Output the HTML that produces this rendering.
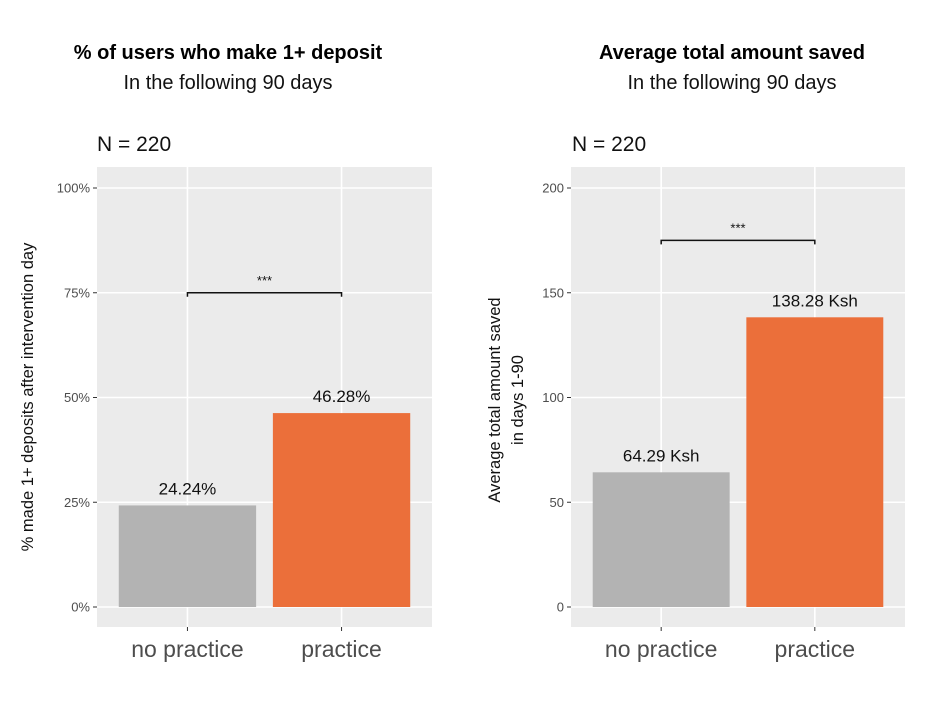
<!DOCTYPE html>
<html><head><meta charset="utf-8"><style>
body{margin:0;background:#fff;}
svg{display:block;font-family:"Liberation Sans",sans-serif;}
</style></head><body>
<svg id="c" width="926" height="706" xmlns="http://www.w3.org/2000/svg">
<text x="228" y="59" text-anchor="middle" font-size="20" font-weight="bold" fill="#000">% of users who make 1+ deposit</text>
<text x="228" y="89" text-anchor="middle" font-size="20" fill="#111">In the following 90 days</text>
<text x="732" y="59" text-anchor="middle" font-size="20" font-weight="bold" fill="#000">Average total amount saved</text>
<text x="732" y="89" text-anchor="middle" font-size="20" fill="#111">In the following 90 days</text>
<text x="97" y="151" font-size="21" fill="#111">N = 220</text>
<text x="572" y="151" font-size="21" fill="#111">N = 220</text>
<text transform="translate(33,397) rotate(-90)" text-anchor="middle" font-size="16.5" fill="#111">% made 1+ deposits after intervention day</text>
<text transform="translate(500,400) rotate(-90)" text-anchor="middle" font-size="16.5" fill="#111">Average total amount saved</text>
<text transform="translate(523,400) rotate(-90)" text-anchor="middle" font-size="16.5" fill="#111">in days 1-90</text>
<g id="left"></g><g id="right"></g>
</svg>
<script>
const categories = ["no practice", "practice"];
const leftValues = [24.24, 46.28];
const leftLabels = ["24.24%", "46.28%"];
const leftTicks = [0, 25, 50, 75, 100];
const leftTickLabels = ["0%", "25%", "50%", "75%", "100%"];
const leftBracket = 75;
const rightValues = [64.29, 138.28];
const rightLabels = ["64.29 Ksh", "138.28 Ksh"];
const rightTicks = [0, 50, 100, 150, 200];
const rightTickLabels = ["0", "50", "100", "150", "200"];
const rightBracket = 175;
const colors = ["#b3b3b3", "#eb6f3a"];
const NS = "http://www.w3.org/2000/svg";
function mk(parent, tag, attrs){const e=document.createElementNS(NS,tag);for(const k in attrs)e.setAttribute(k,attrs[k]);parent.appendChild(e);return e;}
function panel(g, x0, x1, values, labels, ticks, tickLabels, yMax, bracket, prefix){
  const top=167,bottom=627,y0=607,y100=188;
  const y=v=>y0-(v/yMax)*(y0-y100);
  const step=(x1-x0)/2.17, xc=i=>x0+(x1-x0)/2+(i-0.5)*((x1-x0)*0.46);
  const bg=mk(g,'rect',{x:x0,y:top,width:x1-x0,height:bottom-top,fill:'#ebebeb'});
  
  
  ticks.forEach((t,i)=>{
    const gl=mk(g,'line',{x1:x0,x2:x1,y1:y(t),y2:y(t),stroke:'#fff','stroke-width':1.6});
    
    
    mk(g,'line',{x1:x0-4,x2:x0,y1:y(t),y2:y(t),stroke:'#333'});
    const tl=mk(g,'text',{x:x0-7,y:y(t)+4.5,'text-anchor':'end','font-size':13,fill:'#4d4d4d'});
    tl.textContent=tickLabels[i];
    
    
  });
  const bw=(x1-x0)*0.41;
  categories.forEach((c,i)=>{
    const cx=xc(i);
    mk(g,'line',{x1:cx,x2:cx,y1:top,y2:bottom,stroke:'#fff','stroke-width':1.6});
    mk(g,'line',{x1:cx,x2:cx,y1:bottom,y2:bottom+4,stroke:'#333'});
  });
  categories.forEach((c,i)=>{
    const cx=xc(i);
    const b=mk(g,'rect',{x:cx-bw/2,y:y(values[i]),width:bw,height:y0-y(values[i]),fill:colors[i]});
    
    
    const vl=mk(g,'text',{x:cx,y:y(values[i])-11,'text-anchor':'middle','font-size':17,fill:'#111'});
    vl.textContent=labels[i];
    
    
    const xl=mk(g,'text',{x:cx,y:657,'text-anchor':'middle','font-size':23,fill:'#4d4d4d'});
    xl.textContent=c;
    
    
  });
  const by=y(bracket);
  const br=mk(g,'path',{d:`M${xc(0)},${by+4}V${by}H${xc(1)}V${by+4}`,fill:'none',stroke:'#111','stroke-width':1.5});
  
  
  const st=mk(g,'text',{x:(xc(0)+xc(1))/2,y:by-8,'text-anchor':'middle','font-size':13,fill:'#111'});
  st.textContent='***';
  
  
}
panel(document.getElementById('left'),97,432,leftValues,leftLabels,leftTicks,leftTickLabels,100,leftBracket,'left');
panel(document.getElementById('right'),571,905,rightValues,rightLabels,rightTicks,rightTickLabels,200,rightBracket,'right');
</script>
</body></html>
